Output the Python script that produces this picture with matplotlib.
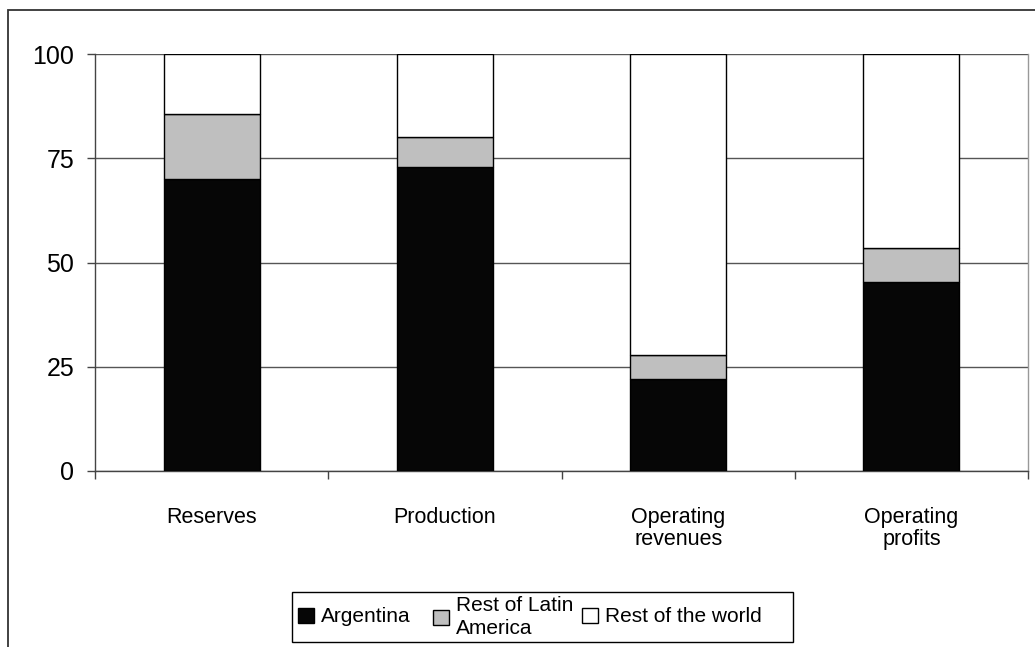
import matplotlib
matplotlib.use("Agg")
import matplotlib.pyplot as plt
from matplotlib.patches import Rectangle
import numpy as np

categories = ["Reserves", "Production", "Operating\nrevenues", "Operating\nprofits"]
argentina = [70.0, 73.0, 22.0, 45.4]
rest_latam = [15.6, 7.0, 5.8, 8.1]
rest_world = [14.4, 20.0, 72.2, 46.5]
series_names = ["Argentina", "Rest of Latin\nAmerica", "Rest of the world"]
series_colors = ["#060606", "#bfbfbf", "#ffffff"]
yticks = [0, 25, 50, 75, 100]

plt.rcParams['font.family'] = ['Liberation Sans', 'DejaVu Sans']

W, H = 1035, 647
fig = plt.figure(figsize=(W / 100, H / 100), dpi=100)
ax = fig.add_axes([95 / W, (H - 471) / H, (1028 - 95) / W, (471 - 54) / H])

x = np.arange(len(categories))
bw = 0.412
bottom = np.zeros(len(categories))
handles = []
for vals, name, col in zip([argentina, rest_latam, rest_world], series_names, series_colors):
    b = ax.bar(x, vals, bw, bottom=bottom, color=col, edgecolor="black",
               linewidth=1.0, label=name, zorder=3)
    handles.append(b)
    bottom += np.array(vals)

ax.set_xlim(-0.5, len(categories) - 0.5)
ax.set_ylim(0, 100)
ax.set_yticks(yticks)
ax.set_yticklabels([str(v) for v in yticks], fontsize=18)
ax.tick_params(axis="y", direction="out", length=6, width=1, color="#444444", pad=9)

ax.set_xticks(np.arange(-0.5, len(categories), 1.0))
ax.set_xticklabels([])
ax.set_xticks(x, minor=True)
ax.set_xticklabels(categories, minor=True, fontsize=15.5, linespacing=1.05)
ax.tick_params(axis="x", which="major", direction="out", length=6, width=1, color="#444444")
ax.tick_params(axis="x", which="minor", length=0, pad=26)

ax.grid(axis="y", color="#555555", linewidth=1.0, zorder=0)
ax.set_axisbelow(True)
ax.spines["top"].set_visible(False)
ax.spines["left"].set_color("#444444")
ax.spines["bottom"].set_color("#444444")
ax.spines["right"].set_color("#999999")
for s in ["left", "bottom", "right"]:
    ax.spines[s].set_linewidth(1.0)

# legend: one entry per anchor, laid out like the original
entry_x = [298, 433, 582]
for h, name, ex in zip(handles, series_names, entry_x):
    leg = fig.legend(handles=[h], labels=[name], loc="center left",
                     bbox_to_anchor=(ex / W, (H - 617) / H), fontsize=15,
                     frameon=False,
                     handlelength=0.75, handleheight=0.75, handletextpad=0.35,
                     borderpad=0.0, borderaxespad=0)
    for t in leg.get_texts():
        t.set_linespacing(1.25)

legbox = Rectangle((292 / W, (H - 642) / H), (793 - 292) / W, 50 / H,
                   transform=fig.transFigure, fill=False, edgecolor="black",
                   linewidth=1.0, zorder=10)
fig.patches.append(legbox)

border = Rectangle((8 / W, -0.5), 2.0, (H - 10) / H + 0.5, transform=fig.transFigure,
                   fill=False, edgecolor="#333333", linewidth=1.3, zorder=10)
fig.patches.append(border)

fig.savefig("out.png", dpi=100)
